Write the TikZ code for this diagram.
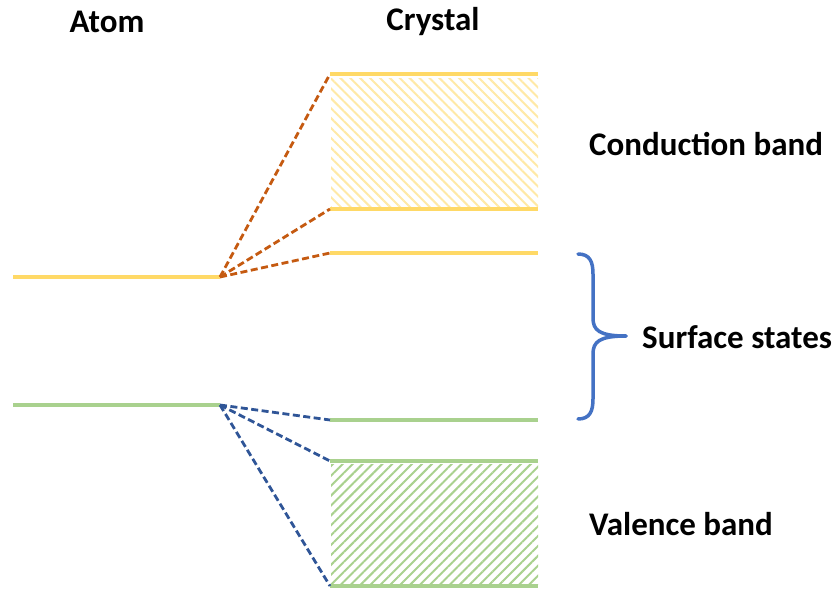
\documentclass[tikz,border=0pt]{standalone}
\usepackage{fontspec}
\setmainfont{Carlito}
\usetikzlibrary{patterns.meta}
\definecolor{ylw}{HTML}{FFD966}
\definecolor{ylwhatch}{HTML}{FFE9A6}
\definecolor{grn}{HTML}{A9D18E}
\definecolor{orng}{HTML}{C55A11}
\definecolor{dblue}{HTML}{2F5597}
\definecolor{brc}{HTML}{4472C4}
\tikzset{
  ylevel/.style={draw=ylw, line width=4.5pt},
  glevel/.style={draw=grn, line width=4.5pt},
  odash/.style={draw=orng, line width=2.8pt, dash pattern=on 7pt off 3.5pt},
  bdash/.style={draw=dblue, line width=2.8pt, dash pattern=on 7pt off 3.5pt},
  lbl/.style={font=\fontsize{33}{38}\selectfont\bfseries, inner sep=0pt, text=black},
  bracestyle/.style={draw=brc, line width=3.5pt, line cap=round}
}
\begin{document}
\begin{tikzpicture}[x=1pt,y=-1pt]
\useasboundingbox (0,0) rectangle (836,589);
% hatched regions
\fill[pattern={Lines[angle=-45,distance=7pt,line width=2pt]}, pattern color=ylwhatch] (331,78) rectangle (538,206);
\fill[pattern={Lines[angle=45,distance=7pt,line width=2pt]}, pattern color=grn] (331,464) rectangle (538,584);
% atom levels
\coordinate (ayl) at (13,277);
\coordinate (ayr) at (220,277);
\coordinate (agl) at (13,405);
\coordinate (agr) at (220,405);
\draw[ylevel] (ayl) -- (ayr);
\draw[glevel] (agl) -- (agr);
% crystal levels
\coordinate (c1l) at (330,74);  \coordinate (c1r) at (538,74);
\coordinate (c2l) at (330,209); \coordinate (c2r) at (538,209);
\coordinate (c3l) at (330,253); \coordinate (c3r) at (538,253);
\coordinate (c4l) at (330,420); \coordinate (c4r) at (538,420);
\coordinate (c5l) at (330,461); \coordinate (c5r) at (538,461);
\coordinate (c6l) at (330,586); \coordinate (c6r) at (538,586);
\draw[ylevel] (c1l) -- (c1r);
\draw[ylevel] (c2l) -- (c2r);
\draw[ylevel] (c3l) -- (c3r);
\draw[glevel] (c4l) -- (c4r);
\draw[glevel] (c5l) -- (c5r);
\draw[glevel] (c6l) -- (c6r);
% dashed connectors
\draw[odash] (ayr) -- (c1l);
\draw[odash] (ayr) -- (c2l);
\draw[odash] (ayr) -- (c3l);
\draw[bdash] (agr) -- (c4l);
\draw[bdash] (agr) -- (c5l);
\draw[bdash] (agr) -- (c6l);
% brace
\coordinate (btop) at (578,254);
\coordinate (btip) at (626,336);
\coordinate (bbot) at (578,419);
\draw[bracestyle] (btop) .. controls (590,254) and (593,262) .. (593,274) -- (593,318)
  .. controls (593,330) and (599,336) .. (btip);
\draw[bracestyle] (btip) .. controls (599,336) and (593,342) .. (593,354) -- (593,399)
  .. controls (593,411) and (590,419) .. (bbot);
% labels
\node[lbl] (atom) at (107,22) {Atom};
\node[lbl] (crystal) at (433,22) {Crystal};
\node[lbl, anchor=west] (cb) at (589,144) {Conduction band};
\node[lbl, anchor=west] (ss) at (642,337) {Surface states};
\node[lbl, anchor=west] (vb) at (589,524) {Valence band};
\end{tikzpicture}
\end{document}
